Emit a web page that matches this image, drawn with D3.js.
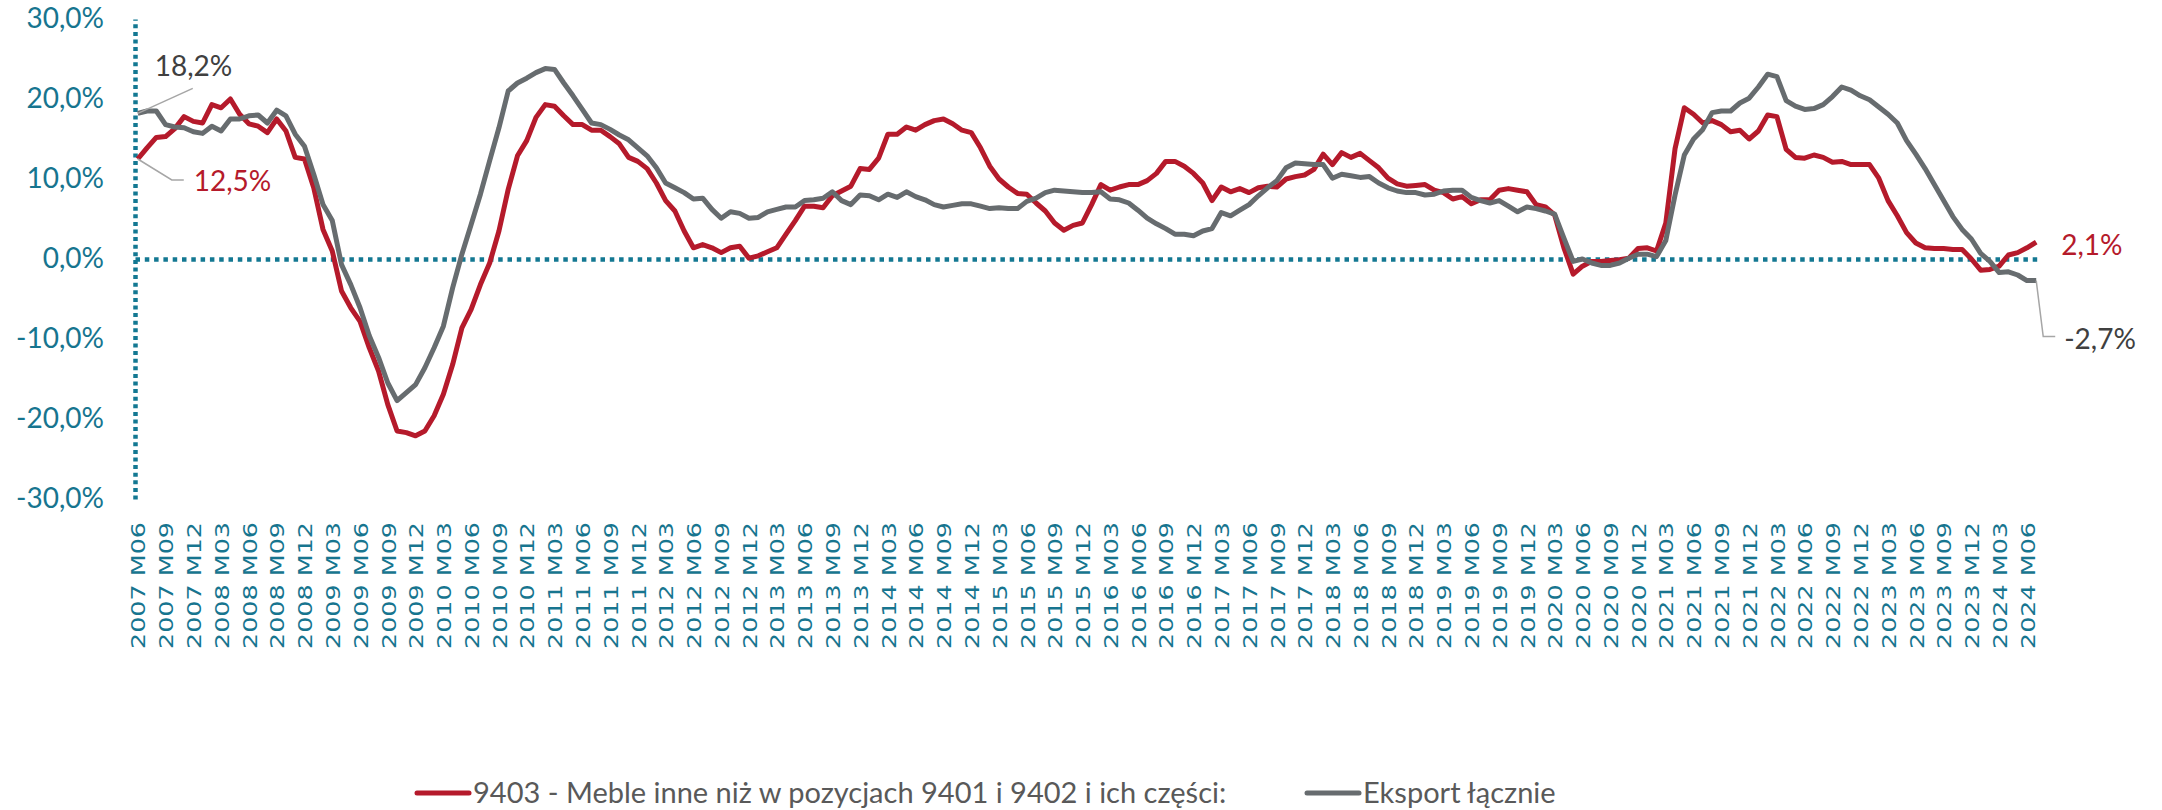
<!DOCTYPE html>
<html>
<head>
<meta charset="utf-8">
<script src="https://cdn.jsdelivr.net/npm/d3@7"></script>
<style>
  body { margin: 0; background: #fff; }
</style>
</head>
<body>
<div id="chart"></div>
<script>
// monthly categories 2007 M06 .. 2024 M07
const months = [];
for (let yr = 2007, m = 6; yr < 2024 || m <= 7; ) {
    months.push(`${yr} M${String(m).padStart(2, "0")}`);
    m++;
    if (m > 12) { m = 1; yr++; }
}
// every third month gets a label
const tickLabels = months.filter((d, i) => i % 3 === 0);
const yTicks = [-30, -20, -10, 0, 10, 20, 30];

const seriesNames = ["9403 - Meble inne niż w pozycjach 9401 i 9402 i ich części:", "Eksport łącznie"];

// 9403 - furniture (y/y %, 12m rolling)
const furniture = [
    12.5, 13.9, 15.2, 15.3, 16.3, 17.8, 17.2,
    17.0, 19.3, 18.9, 20.0, 18.1, 16.9, 16.6, 15.8, 17.5, 16.0, 12.7, 12.5,
    8.9, 3.7, 1.0, -4.0, -6.1, -7.8, -11.1, -14.0, -18.2, -21.5, -21.7, -22.1,
    -21.5, -19.6, -16.9, -13.2, -8.6, -6.3, -3.2, -0.5, 3.5, 8.7, 12.9, 14.8,
    17.7, 19.3, 19.1, 17.9, 16.8, 16.8, 16.1, 16.1, 15.3, 14.4, 12.7, 12.2,
    11.3, 9.5, 7.3, 6.0, 3.5, 1.4, 1.8, 1.4, 0.8, 1.4, 1.6, 0.1,
    0.4, 0.9, 1.4, 3.1, 4.8, 6.6, 6.6, 6.4, 7.9, 8.5, 9.1, 11.3,
    11.2, 12.6, 15.6, 15.6, 16.5, 16.1, 16.8, 17.3, 17.5, 16.9, 16.1, 15.8,
    13.9, 11.6, 10.0, 9.0, 8.2, 8.1, 7.0, 6.0, 4.5, 3.6, 4.2, 4.5,
    6.8, 9.3, 8.6, 9.0, 9.3, 9.3, 9.8, 10.7, 12.2, 12.2, 11.6, 10.7,
    9.5, 7.3, 9.0, 8.4, 8.8, 8.3, 8.9, 9.1, 9.0, 10.0, 10.3, 10.5,
    11.2, 13.1, 11.8, 13.3, 12.7, 13.2, 12.3, 11.4, 10.1, 9.4, 9.1, 9.2,
    9.3, 8.6, 8.3, 7.5, 7.8, 6.9, 7.4, 7.4, 8.6, 8.8, 8.6, 8.4,
    6.8, 6.5, 5.5, 1.4, -1.9, -0.9, -0.3, -0.3, -0.2, -0.1, 0.1, 1.3,
    1.4, 1.0, 4.5, 13.8, 18.9, 18.1, 17.0, 17.3, 16.8, 15.9, 16.1, 15.0,
    16.0, 18.0, 17.8, 13.7, 12.7, 12.6, 13.0, 12.7, 12.1, 12.2, 11.8, 11.8,
    11.8, 10.1, 7.3, 5.4, 3.3, 2.0, 1.4, 1.3, 1.3, 1.2, 1.2, 0.0,
    -1.4, -1.3, -0.9, 0.5, 0.8, 1.4, 2.1
];

// total export
const totalExport = [
    18.2, 18.5, 18.5, 16.8, 16.5, 16.4, 15.9,
    15.7, 16.6, 16.0, 17.5, 17.5, 17.9, 18.0, 17.0, 18.6, 17.9, 15.6, 14.1,
    10.6, 6.8, 4.8, -0.7, -3.2, -6.1, -9.6, -12.3, -15.5, -17.7, -16.7, -15.7,
    -13.6, -11.1, -8.4, -3.6, 0.6, 4.3, 8.1, 12.3, 16.4, 21.0, 22.0, 22.6,
    23.3, 23.8, 23.7, 22.0, 20.4, 18.7, 17.0, 16.8, 16.2, 15.5, 14.9, 13.9,
    12.9, 11.4, 9.5, 8.9, 8.3, 7.5, 7.6, 6.2, 5.1, 5.9, 5.7, 5.1,
    5.2, 5.9, 6.2, 6.5, 6.5, 7.3, 7.4, 7.6, 8.4, 7.3, 6.8, 8.0,
    7.9, 7.4, 8.1, 7.7, 8.4, 7.8, 7.4, 6.8, 6.5, 6.7, 6.9, 6.9,
    6.6, 6.3, 6.4, 6.3, 6.3, 7.2, 7.6, 8.3, 8.6, 8.5, 8.4, 8.3,
    8.3, 8.4, 7.5, 7.4, 7.0, 6.1, 5.1, 4.4, 3.8, 3.1, 3.1, 2.9,
    3.5, 3.8, 5.8, 5.4, 6.1, 6.8, 7.9, 8.9, 9.8, 11.4, 12.0, 11.9,
    11.8, 11.8, 10.1, 10.6, 10.4, 10.2, 10.3, 9.5, 8.9, 8.5, 8.3, 8.3,
    8.0, 8.1, 8.5, 8.6, 8.6, 7.7, 7.3, 7.0, 7.3, 6.6, 5.9, 6.5,
    6.3, 6.0, 5.6, 2.6, -0.3, 0.0, -0.5, -0.8, -0.8, -0.5, 0.1, 0.6,
    0.6, 0.3, 2.3, 8.0, 13.0, 15.0, 16.2, 18.3, 18.5, 18.5, 19.5, 20.1,
    21.5, 23.1, 22.8, 19.8, 19.1, 18.7, 18.8, 19.3, 20.3, 21.5, 21.1, 20.4,
    19.9, 19.0, 18.1, 17.0, 14.8, 13.1, 11.3, 9.3, 7.3, 5.3, 3.7, 2.5,
    0.7, -0.3, -1.7, -1.6, -2.0, -2.7, -2.7
];

const width = 2162, height = 810;
const teal = "#17758F", axisTeal = "#137892";
const red = "#B51A2B", grey = "#676C6F";
const font = "Lato, 'Open Sans', sans-serif";

const fmt = d => (d < 0 ? "-" : "") + Math.abs(d).toFixed(1).replace(".", ",") + "%";

const svg = d3.select("#chart")
    .append("svg")
    .attr("width", width)
    .attr("height", height)
    .style("font-family", font);

// Scales
const x = d3.scalePoint().domain(months).range([135, 2039]).padding(0.3);
const y = d3.scaleLinear().domain([-30, 30]).range([499, 19]);

// Y axis (dotted)
svg.append("g")
    .attr("transform", `translate(${x.range()[0]},0)`)
    .call(d3.axisLeft(y).tickValues(yTicks).tickSize(0).tickPadding(31).tickFormat(fmt))
    .call(g => g.select(".domain").attr("stroke", axisTeal).attr("stroke-width", 4.5).attr("stroke-dasharray", "4 3.6"))
    .call(g => g.selectAll("text").attr("fill", teal).style("font-size", "28px").style("font-family", font));

// zero line (dotted)
svg.append("g")
    .attr("transform", `translate(0,${y(0)})`)
    .call(d3.axisBottom(x).tickValues([]).tickSizeOuter(0))
    .call(g => g.select(".domain").attr("stroke", axisTeal).attr("stroke-width", 4.5).attr("stroke-dasharray", "4.5 4.8"));

// X labels at the bottom, vertical
svg.append("g")
    .attr("transform", "translate(0,522)")
    .call(d3.axisBottom(x).tickValues(tickLabels).tickSize(0))
    .call(g => g.select(".domain").remove())
    .selectAll("text")
    .attr("x", 0)
    .attr("y", 0)
    .attr("dy", "0.36em")
    .attr("transform", "rotate(-90)")
    .attr("text-anchor", "end")
    .attr("textLength", 127)
    .attr("lengthAdjust", "spacingAndGlyphs")
    .attr("fill", teal)
    .style("font-family", "'DejaVu Sans', sans-serif")
    .style("font-size", "20px");

// Lines
const line = d3.line()
    .x((d, i) => x(months[i]))
    .y(d => y(d));

svg.append("path")
    .datum(furniture)
    .attr("fill", "none")
    .attr("stroke", red)
    .attr("stroke-width", 5)
    .attr("stroke-linejoin", "round")
    .attr("d", line);

svg.append("path")
    .datum(totalExport)
    .attr("fill", "none")
    .attr("stroke", grey)
    .attr("stroke-width", 5)
    .attr("stroke-linejoin", "round")
    .attr("d", line);

// Data labels (first and last points)
const leader = "#A6A6A6";
const last = months.length - 1;
const x0 = x(months[0]), xl = x(months[last]);

// 18,2% - first grey point
const g0 = y(totalExport[0]);
svg.append("line")
    .attr("x1", x0).attr("y1", g0).attr("x2", x0 + 55).attr("y2", g0 - 25)
    .attr("stroke", leader).attr("stroke-width", 1.5);
svg.append("text")
    .attr("x", x0 + 17).attr("y", g0 - 37)
    .attr("fill", "#404040").style("font-size", "28px")
    .text(fmt(totalExport[0]));

// 12,5% - first red point
const r0 = y(furniture[0]);
svg.append("path")
    .attr("d", `M${x0},${r0}L${x0 + 34},${r0 + 21}H${x0 + 46}`)
    .attr("fill", "none").attr("stroke", leader).attr("stroke-width", 1.5);
svg.append("text")
    .attr("x", x0 + 56).attr("y", r0 + 32)
    .attr("fill", red).style("font-size", "28px")
    .text(fmt(furniture[0]));

// 2,1% - last red point
const rl = y(furniture[last]);
svg.append("text")
    .attr("x", xl + 25).attr("y", rl + 13)
    .attr("fill", red).style("font-size", "28px")
    .text(fmt(furniture[last]));

// -2,7% - last grey point
const gl = y(totalExport[last]);
svg.append("path")
    .attr("d", `M${xl},${gl}L${xl + 7},${gl + 56}H${xl + 19}`)
    .attr("fill", "none").attr("stroke", leader).attr("stroke-width", 1.5);
svg.append("text")
    .attr("x", xl + 28).attr("y", gl + 68)
    .attr("fill", "#404040").style("font-size", "28px")
    .text(fmt(totalExport[last]));

// Legend
const legendItems = [
    { name: seriesNames[0], color: red, x: 415 },
    { name: seriesNames[1], color: grey, x: 1305 }
];
const legend = svg.append("g").attr("transform", "translate(0,793)");
legendItems.forEach(d => {
    legend.append("line")
        .attr("x1", d.x + 2).attr("x2", d.x + 54)
        .attr("y1", 0).attr("y2", 0)
        .attr("stroke", d.color).attr("stroke-width", 5).attr("stroke-linecap", "round");
    legend.append("text")
        .attr("x", d.x + 58).attr("y", 10)
        .attr("fill", "#595959").style("font-size", "29px")
        .text(d.name);
});
</script>
</body>
</html>
